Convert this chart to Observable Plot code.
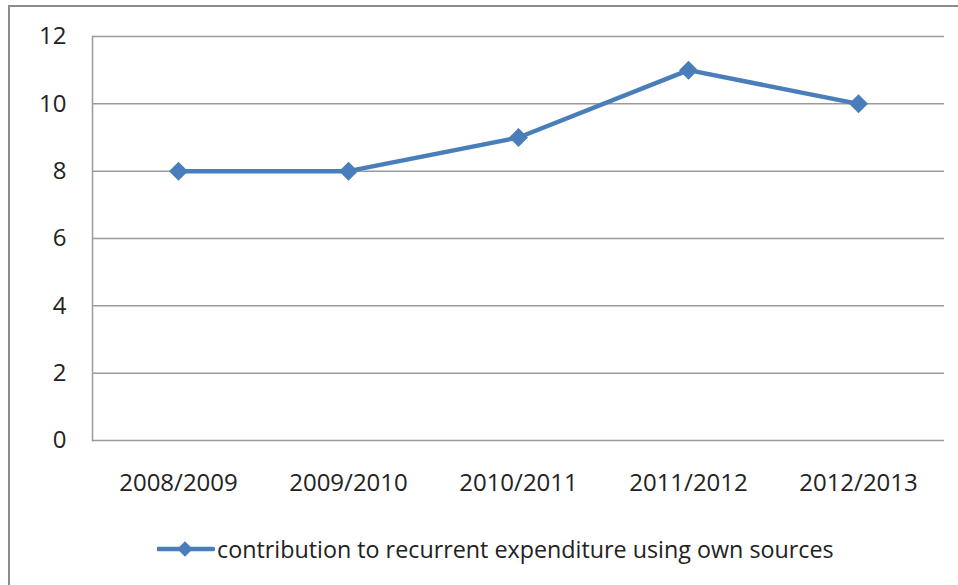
<!DOCTYPE html>
<html>
<head>
<meta charset="utf-8">
<script src="https://cdn.jsdelivr.net/npm/d3@7"></script>
<script src="https://cdn.jsdelivr.net/npm/@observablehq/plot@0.6"></script>
<style>
  html, body { margin: 0; padding: 0; background: #fff; }
  body { width: 958px; height: 585px; position: relative; overflow: hidden; font-family: "Open Sans", sans-serif; }
  #frame { position: absolute; left: 8px; top: 5px; width: 1000px; height: 1000px; border-left: 2px solid #8c8c8c; border-top: 2px solid #8c8c8c; pointer-events: none; }
  #chart { position: absolute; left: 0; top: 0; }
  #legend { position: absolute; left: 157px; top: 533px; display: flex; align-items: center; font-size: 23.3px; color: #222; white-space: nowrap; }
  #legend svg { margin-right: 2px; }
</style>
</head>
<body>
<div id="chart"></div>
<div id="legend"></div>
<div id="frame"></div>
<script>
const categories = ["2008/2009", "2009/2010", "2010/2011", "2011/2012", "2012/2013"];
const values = [8, 8, 9, 11, 10];
const yTicks = [0, 2, 4, 6, 8, 10, 12];
const seriesName = "contribution to recurrent expenditure using own sources";
const color = "#4a7ebb";

const data = categories.map((c, i) => ({category: c, value: values[i]}));

const chart = Plot.plot({
  width: 958,
  height: 510,
  marginLeft: 92,
  marginRight: 14,
  marginTop: 36,
  marginBottom: 70,
  style: {fontFamily: "Open Sans, sans-serif", fontSize: "24px", color: "#222", background: "transparent", overflow: "visible"},
  x: {type: "point", domain: categories, padding: 0.5, label: null},
  y: {domain: [0, 12], ticks: yTicks, label: null},
  marks: [
    Plot.gridY(yTicks, {stroke: "#9a9a9a", strokeOpacity: 1, strokeWidth: 1.5}),
    Plot.frame({anchor: "left", stroke: "#9a9a9a", strokeWidth: 1.5}),
    Plot.axisY(yTicks, {tickSize: 0, tickPadding: 26, fontSize: 24, fill: "#222", label: null}),
    Plot.axisX(categories, {tickSize: 0, tickPadding: 33, fontSize: 24, fill: "#222", label: null}),
    Plot.line(data, {x: "category", y: "value", stroke: color, strokeWidth: 4.5}),
    Plot.dot(data, {x: "category", y: "value", symbol: "square", r: 7.6, rotate: 45, fill: color, stroke: "none"})
  ]
});
document.getElementById("chart").appendChild(chart);

const legend = document.getElementById("legend");
legend.innerHTML = `<svg width="58" height="20"><line x1="1" y1="10" x2="56" y2="10" stroke="${color}" stroke-width="4.5" stroke-linecap="round"/><rect x="22.5" y="4.5" width="11" height="11" fill="${color}" transform="rotate(45 28 10)"/></svg><span>${seriesName}</span>`;
</script>
</body>
</html>
